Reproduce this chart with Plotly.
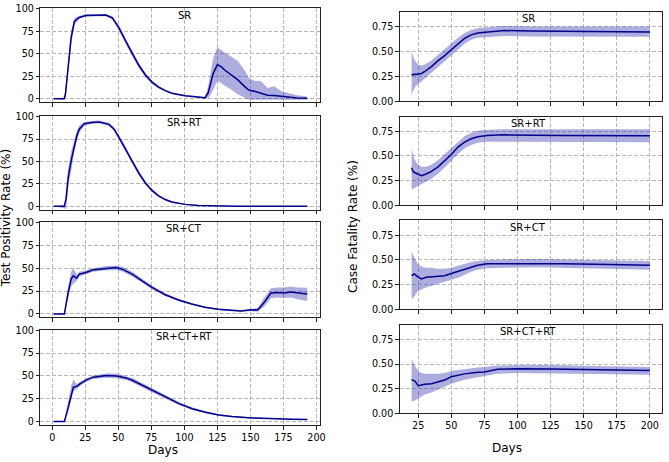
import plotly.graph_objects as go

# ---------------- data: Test Positivity Rate (%) ----------------
tpr_sr_days = [1, 9, 10, 11.8, 14.3, 16.8, 20.5, 25.5, 33, 40.5, 45.5, 50.5, 55.5, 60.5, 65.5, 70.5, 75.5,
               80.5, 85.5, 90.5, 100.5, 110.5, 115.5, 118, 121.8, 125, 128, 130.5, 135.5, 140.5, 145.5,
               149, 153, 158, 163, 168, 173, 178, 185.5, 193]
tpr_sr_mean = [0, 0, 5, 32, 68, 86, 90.5, 92.7, 93.2, 93.3, 90, 79, 64.5, 50, 37.3, 26.4, 18.5,
               13, 9, 6.2, 3.3, 1.8, 1, 6.5, 28, 38, 35.5, 32, 26.5, 21, 13.8,
               9.5, 8.3, 5.8, 4, 3.5, 2.5, 1.8, 0.7, 0.5]
tpr_sr_lo = [0, -1, 0, 22, 60, 82, 89, 91.5, 92, 92, 88, 76, 61.5, 47, 34.5, 24, 16.5,
             11.5, 8, 5.3, 2.6, 1.2, 0.5, 0, 10, 20, 18, 15, 10, 5, 1,
             -1, -1, -1, -1, -1, -1, -1, -1, -1]
tpr_sr_hi = [0, 1, 12, 42, 76, 90, 92.5, 94, 94.5, 94.5, 92, 82, 67.5, 53, 40, 29, 20.5,
             14.5, 10.2, 7.2, 4, 2.4, 1.6, 14, 45, 57, 54, 51, 47, 42, 32,
             22.8, 20, 19.5, 12, 14, 9, 6.5, 4, 2.5]

tpr_rt_days = [1, 9, 10.5, 12, 14.5, 16.7, 18.5, 20.5, 24.3, 30, 35.5, 43, 46.8, 50.5, 55.5, 60.5, 65.5,
               70.5, 75.5, 80.5, 85.5, 90.5, 100.5, 110.5, 125, 140, 193]
tpr_rt_mean = [0, 0, 8, 31.5, 52, 67.8, 78, 86, 92, 93.5, 93.9, 91.3, 86, 76.8, 64, 49.7, 37,
               26, 17.8, 11.6, 7.6, 4.8, 2.2, 1, 0.3, 0.1, 0]
tpr_rt_lo = [0, -2, -3, 20, 42, 60, 72, 82, 90, 92, 92.5, 89.5, 84, 74, 61, 47, 34.5,
             24, 16, 10.3, 6.6, 4, 1.6, 0.6, 0.1, 0, 0]
tpr_rt_hi = [0, 1, 18, 42, 62, 76, 84, 90, 94, 95, 95.5, 93, 88, 79.5, 67, 52.5, 39.5,
             28, 19.6, 13, 8.6, 5.6, 2.8, 1.4, 0.6, 0.3, 0.1]

tpr_ct_days = [1, 9.2, 11.8, 14.3, 16, 17.5, 18.5, 20.5, 25.5, 30.5, 40.5, 48, 53, 60.5, 68, 75.5,
               85.5, 95.5, 105.5, 115.5, 125.5, 135.5, 143, 150.5, 155.5, 160.5, 165.5, 170.5,
               175.5, 180.5, 185.5, 193]
tpr_ct_mean = [0, 0, 21.7, 38, 41.6, 40, 39, 43.5, 45.3, 48, 50, 50.7, 48.9, 43.5, 36, 29,
               21, 15.2, 10.9, 7.2, 5.1, 3.6, 3.3, 4.5, 4.3, 12.7, 22.8, 23.5,
               23, 24, 23, 21.7]
tpr_ct_lo = [0, -0.5, 15, 30, 33, 35, 36, 41, 43, 46, 47.5, 48, 46.5, 41, 34, 27,
             19.5, 14, 10, 6.5, 4.4, 3, 2.6, 3, 2.5, 8, 17, 18,
             17.5, 18, 16, 14]
tpr_ct_hi = [0, 0.5, 28, 46, 50, 46, 43, 46, 47.5, 50, 52.5, 53, 51.5, 46, 38.5, 31,
             22.5, 16.5, 12, 8.2, 5.8, 4.3, 4, 5.5, 6.5, 18, 28, 29,
             29, 30, 29, 28.5]

tpr_ctrt_days = [1, 9.2, 12, 14.5, 16, 17.5, 18.5, 21, 26, 31, 41, 48.5, 56, 61, 68.5, 76, 86, 96,
                 106, 116, 126, 136, 151, 166, 181, 193]
tpr_ctrt_mean = [0, 0, 15, 30, 37.7, 38, 38.4, 41.3, 45.6, 48.6, 50.4, 50, 47.8, 45, 39.5, 34, 26.8, 19.6,
                 14.1, 10.1, 7.2, 5.4, 4, 2.9, 2.5, 2.2]
tpr_ctrt_lo = [0, -0.5, 10, 24, 33, 34, 35.5, 39, 43.5, 46.5, 48, 47.5, 45.5, 42.5, 37, 31.5, 24.5, 17.8,
               12.7, 9, 6.3, 4.6, 3.3, 2.3, 1.9, 1.7]
tpr_ctrt_hi = [0, 0.5, 22, 40, 46, 43, 41, 43.5, 47.5, 50.5, 52.5, 52.5, 50, 47.5, 42, 36.5, 29, 21.5,
               15.5, 11.2, 8.1, 6.2, 4.7, 3.5, 3.1, 2.7]

# ---------------- data: Case Fatality Rate (%) ----------------
cfr_sr_days = [20, 21, 22, 23, 25, 27.5, 30, 35, 40, 45, 50, 55, 60, 65, 70, 77.5, 90, 110, 135, 160, 200]
cfr_sr_mean = [0.27, 0.265, 0.275, 0.27, 0.275, 0.28, 0.30, 0.35, 0.41, 0.46, 0.52, 0.58, 0.635, 0.67,
               0.69, 0.70, 0.714, 0.71, 0.708, 0.704, 0.70]
cfr_sr_lo = [0.05, 0.10, 0.13, 0.15, 0.17, 0.19, 0.23, 0.29, 0.35, 0.40, 0.46, 0.52, 0.58, 0.62,
             0.64, 0.65, 0.66, 0.655, 0.65, 0.65, 0.65]
cfr_sr_hi = [0.50, 0.45, 0.42, 0.40, 0.37, 0.36, 0.37, 0.41, 0.47, 0.52, 0.58, 0.64, 0.69, 0.72,
             0.74, 0.75, 0.76, 0.755, 0.755, 0.755, 0.755]

cfr_rt_days = [20, 21.2, 22.5, 25, 27.5, 31, 35, 40, 45, 50, 55, 60, 65, 70, 77, 89.5, 134, 200]
cfr_rt_mean = [0.38, 0.34, 0.33, 0.317, 0.30, 0.317, 0.343, 0.39, 0.45, 0.515, 0.59, 0.64, 0.674,
               0.694, 0.707, 0.714, 0.707, 0.704]
cfr_rt_lo = [0.16, 0.17, 0.18, 0.20, 0.22, 0.24, 0.27, 0.32, 0.38, 0.45, 0.52, 0.575, 0.61,
             0.635, 0.645, 0.65, 0.645, 0.64]
cfr_rt_hi = [0.58, 0.50, 0.46, 0.41, 0.39, 0.39, 0.41, 0.46, 0.52, 0.58, 0.65, 0.70, 0.735,
             0.755, 0.765, 0.772, 0.77, 0.77]

cfr_ct_days = [20, 22, 24.5, 27.5, 31, 35, 40, 45, 50, 55, 60, 65, 70, 77, 89.5, 114, 134, 159, 200]
cfr_ct_mean = [0.34, 0.357, 0.33, 0.307, 0.324, 0.33, 0.33, 0.34, 0.363, 0.383, 0.406, 0.43, 0.446,
               0.462, 0.462, 0.469, 0.462, 0.456, 0.446]
cfr_ct_lo = [0.10, 0.13, 0.18, 0.20, 0.22, 0.24, 0.26, 0.28, 0.30, 0.32, 0.35, 0.38, 0.40,
             0.415, 0.42, 0.425, 0.42, 0.41, 0.40]
cfr_ct_hi = [0.58, 0.53, 0.46, 0.43, 0.42, 0.42, 0.41, 0.41, 0.42, 0.44, 0.46, 0.48, 0.49,
             0.50, 0.505, 0.51, 0.505, 0.50, 0.49]

cfr_ctrt_days = [20, 22.5, 25, 27.5, 30, 35, 40, 45, 50, 55, 60, 70, 75, 85, 100, 125, 160, 200]
cfr_ctrt_mean = [0.34, 0.327, 0.28, 0.29, 0.294, 0.30, 0.32, 0.337, 0.37, 0.385, 0.40, 0.416, 0.42,
                 0.446, 0.453, 0.449, 0.44, 0.433]
cfr_ctrt_lo = [0.12, 0.13, 0.15, 0.17, 0.19, 0.21, 0.24, 0.27, 0.30, 0.32, 0.34, 0.365, 0.38,
               0.40, 0.41, 0.41, 0.40, 0.39]
cfr_ctrt_hi = [0.55, 0.48, 0.43, 0.41, 0.40, 0.40, 0.40, 0.41, 0.43, 0.44, 0.45, 0.465, 0.47,
               0.485, 0.49, 0.49, 0.48, 0.47]

titles = ["SR", "SR+RT", "SR+CT", "SR+CT+RT"]
left_ticks = [0, 25, 50, 75, 100, 125, 150, 175, 200]
left_yticks = [0, 25, 50, 75, 100]
right_ticks = [25, 50, 75, 100, 125, 150, 175, 200]
right_yticks = [0.0, 0.25, 0.5, 0.75]

left_series = [
    (tpr_sr_days, tpr_sr_mean, tpr_sr_lo, tpr_sr_hi),
    (tpr_rt_days, tpr_rt_mean, tpr_rt_lo, tpr_rt_hi),
    (tpr_ct_days, tpr_ct_mean, tpr_ct_lo, tpr_ct_hi),
    (tpr_ctrt_days, tpr_ctrt_mean, tpr_ctrt_lo, tpr_ctrt_hi),
]
right_series = [
    (cfr_sr_days, cfr_sr_mean, cfr_sr_lo, cfr_sr_hi),
    (cfr_rt_days, cfr_rt_mean, cfr_rt_lo, cfr_rt_hi),
    (cfr_ct_days, cfr_ct_mean, cfr_ct_lo, cfr_ct_hi),
    (cfr_ctrt_days, cfr_ctrt_mean, cfr_ctrt_lo, cfr_ctrt_hi),
]

# ---------------- layout geometry (pixels) ----------------
W, H = 669, 462
LINE = "#00008b"
BAND = "rgba(40,40,170,0.38)"
FONT = "DejaVu Sans"

left_x = (40.7, 322.7)
right_x = (403.3, 667.7)
left_rows = [(3.3, 99.3), (113.3, 209.3), (221.5, 319.3), (331.7, 429.3)]
right_rows = [(7.3, 98.3), (114.0, 204.7), (220.2, 311.0), (326.7, 417.3)]


def xdom(a, b):
    return [a / W, b / W]


def ydom(top, bot):
    return [1 - bot / H, 1 - top / H]


fig = go.Figure()
layout = dict(
    width=W, height=H, margin=dict(l=0, r=0, t=0, b=0),
    paper_bgcolor="white", plot_bgcolor="white", showlegend=False,
    font=dict(family=FONT, size=10, color="black"),
)
annotations = []

axis_common = dict(
    showline=True, mirror=True, linecolor="#222", linewidth=1,
    ticks="outside", ticklen=3.5, tickwidth=0.8, tickcolor="#222",
    showgrid=True, gridcolor="#b8b8b8", griddash="4px,2px", gridwidth=0.8,
    zeroline=False, tickfont=dict(family=FONT, size=9.6, color="black"),
)


def add_panel(idx, series, xd, row, xrange, yrange, xticks, yticks, ytickfmt, show_xlabels, title, title_x):
    days, mean, lo, hi = series
    xa = "x" if idx == 1 else f"x{idx}"
    ya = "y" if idx == 1 else f"y{idx}"
    band_x = list(days) + list(days)[::-1]
    band_y = list(hi) + list(lo)[::-1]
    fig.add_trace(go.Scatter(x=band_x, y=band_y, fill="toself", fillcolor=BAND,
                             line=dict(width=0), mode="lines", hoverinfo="skip",
                             xaxis=xa, yaxis=ya))
    fig.add_trace(go.Scatter(x=days, y=mean, mode="lines", line=dict(color=LINE, width=1.5),
                             xaxis=xa, yaxis=ya))
    xkey = "xaxis" if idx == 1 else f"xaxis{idx}"
    ykey = "yaxis" if idx == 1 else f"yaxis{idx}"
    layout[xkey] = dict(axis_common, domain=xdom(*xd), range=xrange, anchor=ya,
                        tickvals=xticks, showticklabels=show_xlabels)
    layout[ykey] = dict(axis_common, domain=ydom(*row), range=yrange, anchor=xa,
                        tickvals=yticks, tickformat=ytickfmt)
    annotations.append(dict(text=title, x=title_x / W, y=1 - (row[0] + 7) / H,
                            xref="paper", yref="paper", showarrow=False,
                            xanchor="center", yanchor="middle",
                            font=dict(family=FONT, size=10, color="black")))


for i in range(4):
    add_panel(i + 1, left_series[i], left_x, left_rows[i], [-9, 202.5], [-3.8, 100.8],
              left_ticks, left_yticks, "d", i == 3, titles[i], 186)
for i in range(4):
    add_panel(i + 5, right_series[i], right_x, right_rows[i], [11, 209], [0, 0.9],
              right_ticks, right_yticks, ".2f", i == 3, titles[i], 533)

annotations += [
    dict(text="Test Positivity Rate (%)", x=6 / W, y=1 - 218 / H, xref="paper", yref="paper",
         showarrow=False, textangle=-90, xanchor="center", yanchor="middle",
         font=dict(family=FONT, size=12, color="black")),
    dict(text="Case Fatality Rate (%)", x=356 / W, y=1 - 226 / H, xref="paper", yref="paper",
         showarrow=False, textangle=-90, xanchor="center", yanchor="middle",
         font=dict(family=FONT, size=12, color="black")),
    dict(text="Days", x=164 / W, y=1 - 455 / H, xref="paper", yref="paper",
         showarrow=False, xanchor="center", yanchor="middle",
         font=dict(family=FONT, size=12, color="black")),
    dict(text="Days", x=512 / W, y=1 - 453 / H, xref="paper", yref="paper",
         showarrow=False, xanchor="center", yanchor="middle",
         font=dict(family=FONT, size=12, color="black")),
]
layout["annotations"] = annotations
fig.update_layout(**layout)
fig.write_html("out.html")
